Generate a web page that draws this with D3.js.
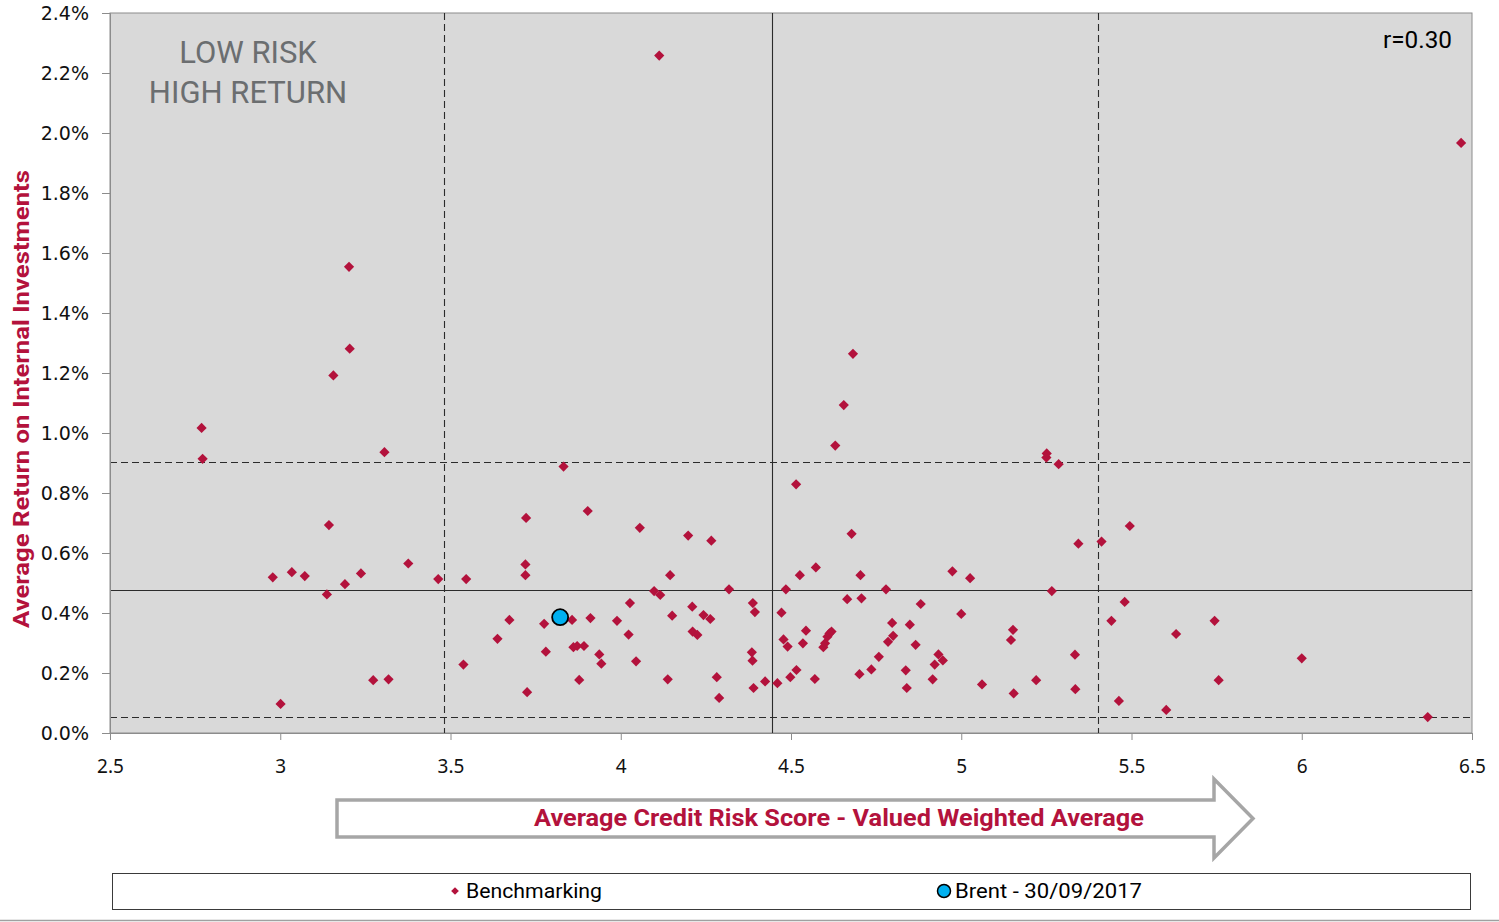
<!DOCTYPE html>
<html>
<head>
<meta charset="utf-8">
<script src="https://cdn.jsdelivr.net/npm/d3@7"></script>
<style>
  body { margin: 0; background: #ffffff; }
  svg { display: block; }
</style>
</head>
<body>
<div id="chart"></div>
<script>
// x tick values / y tick values
var xTicks = [2.5, 3, 3.5, 4, 4.5, 5, 5.5, 6, 6.5];
var yTicks = [0, 0.2, 0.4, 0.6, 0.8, 1.0, 1.2, 1.4, 1.6, 1.8, 2.0, 2.2, 2.4];

// benchmarking points: [credit risk score, average return %]
var benchmarking = [
  [2.769, 1.017], [2.772, 0.914], [2.978, 0.519], [3.001, 0.097], [3.034, 0.536],
  [3.072, 0.523], [3.137, 0.462], [3.143, 0.693], [3.156, 1.192], [3.19, 0.496],
  [3.202, 1.554], [3.204, 1.281], [3.237, 0.532], [3.273, 0.176], [3.306, 0.936],
  [3.318, 0.179], [3.376, 0.565], [3.464, 0.513], [3.538, 0.228], [3.546, 0.513],
  [3.638, 0.314], [3.673, 0.377], [3.72, 0.562], [3.722, 0.717], [3.72, 0.526],
  [3.725, 0.136], [3.775, 0.364], [3.78, 0.271], [3.832, 0.888], [3.857, 0.377],
  [3.861, 0.286], [3.872, 0.29], [3.878, 0.177], [3.892, 0.29], [3.903, 0.74],
  [3.911, 0.383], [3.937, 0.262], [3.943, 0.231], [3.989, 0.374], [4.023, 0.328],
  [4.027, 0.433], [4.045, 0.239], [4.056, 0.684], [4.098, 0.473], [4.113, 2.258],
  [4.116, 0.46], [4.138, 0.179], [4.145, 0.526], [4.151, 0.391], [4.198, 0.658],
  [4.21, 0.421], [4.211, 0.338], [4.225, 0.327], [4.243, 0.393], [4.263, 0.38],
  [4.266, 0.641], [4.282, 0.186], [4.289, 0.117], [4.318, 0.479], [4.385, 0.269],
  [4.387, 0.241], [4.388, 0.433], [4.39, 0.15], [4.394, 0.403], [4.424, 0.172],
  [4.46, 0.166], [4.472, 0.401], [4.478, 0.312], [4.485, 0.479], [4.49, 0.288],
  [4.498, 0.186], [4.515, 0.829], [4.516, 0.21], [4.526, 0.526], [4.535, 0.299],
  [4.544, 0.341], [4.57, 0.18], [4.573, 0.552], [4.595, 0.286], [4.6, 0.299],
  [4.607, 0.321], [4.613, 0.332], [4.619, 0.338], [4.63, 0.958], [4.655, 1.093],
  [4.665, 0.446], [4.678, 0.664], [4.682, 1.264], [4.701, 0.196], [4.704, 0.526],
  [4.707, 0.449], [4.736, 0.212], [4.758, 0.254], [4.779, 0.479], [4.785, 0.304],
  [4.797, 0.367], [4.8, 0.324], [4.837, 0.209], [4.84, 0.15], [4.849, 0.361],
  [4.866, 0.294], [4.881, 0.43], [4.916, 0.179], [4.922, 0.228], [4.933, 0.262],
  [4.946, 0.242], [4.974, 0.539], [5.0, 0.397], [5.026, 0.516], [5.061, 0.162],
  [5.146, 0.31], [5.152, 0.344], [5.154, 0.132], [5.22, 0.176], [5.25, 0.918],
  [5.251, 0.932], [5.266, 0.473], [5.286, 0.896], [5.334, 0.261], [5.335, 0.146],
  [5.344, 0.631], [5.412, 0.638], [5.441, 0.374], [5.463, 0.107], [5.48, 0.437],
  [5.495, 0.69], [5.602, 0.077], [5.631, 0.33], [5.744, 0.374], [5.756, 0.176],
  [6.0, 0.249], [6.37, 0.053], [6.468, 1.967]
];

// Brent - 30/09/2017
var brent = [[3.822, 0.386]];

// quadrant reference lines (mean and +/- one deviation)
var xRefDashed = [3.481, 5.403];
var xRefSolid = [4.444];
var yRefDashed = [0.053, 0.904];
var yRefSolid = [0.478];

var legendItems = ["Benchmarking", "Brent - 30/09/2017"];

var crimson = "#b3123c";
var W = 1499, H = 922;
var margin = { top: 13, right: 27, bottom: 189, left: 110 };

var svg = d3.select("#chart")
  .append("svg")
  .attr("width", W)
  .attr("height", H);

var x = d3.scaleLinear().domain([2.5, 6.5]).range([margin.left, W - margin.right]);
var y = d3.scaleLinear().domain([0, 2.4]).range([H - margin.bottom, margin.top]);

// plot background
svg.append("rect")
  .attr("x", x(2.5))
  .attr("y", y(2.4))
  .attr("width", x(6.5) - x(2.5))
  .attr("height", y(0) - y(2.4))
  .attr("fill", "#d9d9d9")
  .attr("stroke", "#8c8c8c")
  .attr("stroke-width", 1);

// reference lines
svg.selectAll(".vref")
  .data(xRefDashed.map(function (v) { return { v: v, dash: "7,4" }; })
    .concat(xRefSolid.map(function (v) { return { v: v, dash: null }; })))
  .enter()
  .append("line")
  .attr("x1", function (d) { return Math.round(x(d.v)) + 0.5; })
  .attr("x2", function (d) { return Math.round(x(d.v)) + 0.5; })
  .attr("y1", y(2.4))
  .attr("y2", y(0))
  .attr("stroke", "#2b2b2b")
  .attr("stroke-width", 1.1)
  .attr("stroke-dasharray", function (d) { return d.dash; });

svg.selectAll(".href")
  .data(yRefDashed.map(function (v) { return { v: v, dash: "7,4" }; })
    .concat(yRefSolid.map(function (v) { return { v: v, dash: null }; })))
  .enter()
  .append("line")
  .attr("x1", x(2.5))
  .attr("x2", x(6.5))
  .attr("y1", function (d) { return Math.round(y(d.v)) + 0.5; })
  .attr("y2", function (d) { return Math.round(y(d.v)) + 0.5; })
  .attr("stroke", "#2b2b2b")
  .attr("stroke-width", 1.1)
  .attr("stroke-dasharray", function (d) { return d.dash; });

// Y axis
var yAxis = svg.append("g")
  .attr("transform", "translate(" + x(2.5) + ",0)")
  .call(d3.axisLeft(y).tickValues(yTicks).tickSize(8).tickPadding(13)
    .tickFormat(function (d) { return d.toFixed(1) + "%"; }));
yAxis.select(".domain").attr("stroke", "#8c8c8c");
yAxis.selectAll(".tick line").attr("stroke", "#8c8c8c");
yAxis.selectAll("text")
  .attr("font-family", "'DejaVu Sans', Verdana, sans-serif")
  .attr("font-size", "19px")
  .attr("fill", "#111");

// X axis
var xAxis = svg.append("g")
  .attr("transform", "translate(0," + y(0) + ")")
  .call(d3.axisBottom(x).tickValues(xTicks).tickSize(7).tickPadding(20)
    .tickFormat(function (d) { return String(d); }));
xAxis.select(".domain").attr("stroke", "#8c8c8c");
xAxis.selectAll(".tick line").attr("stroke", "#8c8c8c");
xAxis.selectAll("text")
  .attr("font-family", "'Noto Sans', 'Open Sans', sans-serif")
  .attr("font-size", "19px")
  .attr("fill", "#111");

// benchmarking diamonds
var diamond = d3.symbol().type(d3.symbolSquare).size(52);
svg.append("g")
  .selectAll("path")
  .data(benchmarking)
  .enter()
  .append("path")
  .attr("d", diamond)
  .attr("transform", function (d) {
    return "translate(" + x(d[0]) + "," + y(d[1]) + ") rotate(45)";
  })
  .attr("fill", crimson);

// Brent point
svg.append("g")
  .selectAll("circle")
  .data(brent)
  .enter()
  .append("circle")
  .attr("cx", function (d) { return x(d[0]); })
  .attr("cy", function (d) { return y(d[1]); })
  .attr("r", 8)
  .attr("fill", "#00b0f0")
  .attr("stroke", "#000")
  .attr("stroke-width", 1.8);

// quadrant label
var quad = svg.append("text")
  .attr("font-family", "'Roboto', 'Noto Sans', sans-serif")
  .attr("font-size", "31px")
  .attr("fill", "#6b6e70")
  .attr("text-anchor", "middle");
quad.append("tspan").attr("x", 248).attr("y", 63).text("LOW RISK");
quad.append("tspan").attr("x", 248).attr("y", 103).text("HIGH RETURN");

// correlation
svg.append("text")
  .attr("x", 1452)
  .attr("y", 48)
  .attr("text-anchor", "end")
  .attr("font-family", "'Roboto', 'Noto Sans', sans-serif")
  .attr("font-size", "23px")
  .attr("fill", "#000")
  .attr("textLength", 69)
  .attr("lengthAdjust", "spacingAndGlyphs")
  .text("r=0.30");

// y axis title
svg.append("text")
  .attr("transform", "translate(29,399) rotate(-90)")
  .attr("text-anchor", "middle")
  .attr("font-family", "'Roboto', 'Noto Sans', sans-serif")
  .attr("font-size", "22px")
  .attr("font-weight", "bold")
  .attr("fill", crimson)
  .attr("textLength", 458)
  .attr("lengthAdjust", "spacingAndGlyphs")
  .text("Average Return on Internal Investments");

// arrow with x axis title
var ax0 = 337, ax1 = 1214, axTip = 1253, ayTop = 800, ayBot = 837, ahTop = 779, ahBot = 858;
var ayMid = (ayTop + ayBot) / 2;
svg.append("path")
  .attr("d", "M" + ax0 + "," + ayTop + "H" + ax1 + "V" + ahTop + "L" + axTip + "," + ayMid +
    "L" + ax1 + "," + ahBot + "V" + ayBot + "H" + ax0 + "Z")
  .attr("fill", "#ffffff")
  .attr("stroke", "#a6a6a6")
  .attr("stroke-width", 3.5)
  .attr("stroke-linejoin", "miter");

svg.append("text")
  .attr("x", 839)
  .attr("y", 826)
  .attr("text-anchor", "middle")
  .attr("font-family", "'Roboto', 'Noto Sans', sans-serif")
  .attr("font-size", "23px")
  .attr("font-weight", "bold")
  .attr("fill", crimson)
  .attr("textLength", 610)
  .attr("lengthAdjust", "spacingAndGlyphs")
  .text("Average Credit Risk Score - Valued Weighted Average");

// legend
svg.append("rect")
  .attr("x", 112.5)
  .attr("y", 873.5)
  .attr("width", 1358)
  .attr("height", 36)
  .attr("fill", "#ffffff")
  .attr("stroke", "#3a3a3a")
  .attr("stroke-width", 1);

svg.append("path")
  .attr("d", d3.symbol().type(d3.symbolSquare).size(30))
  .attr("transform", "translate(455,891) rotate(45)")
  .attr("fill", crimson);
svg.append("circle")
  .attr("cx", 944)
  .attr("cy", 891)
  .attr("r", 6.5)
  .attr("fill", "#00b0f0")
  .attr("stroke", "#000")
  .attr("stroke-width", 1.5);

svg.selectAll(".legtext")
  .data(legendItems)
  .enter()
  .append("text")
  .attr("x", function (d, i) { return i == 0 ? 466 : 955; })
  .attr("y", 898)
  .attr("font-family", "'Roboto', 'Noto Sans', sans-serif")
  .attr("font-size", "21px")
  .attr("fill", "#000")
  .attr("textLength", function (d, i) { return i == 0 ? 136 : 187; })
  .attr("lengthAdjust", "spacingAndGlyphs")
  .text(function (d) { return d; });

// outer bottom border
svg.append("line")
  .attr("x1", 0)
  .attr("x2", W)
  .attr("y1", 920.5)
  .attr("y2", 920.5)
  .attr("stroke", "#a0a0a0")
  .attr("stroke-width", 1.5);
</script>
</body>
</html>
